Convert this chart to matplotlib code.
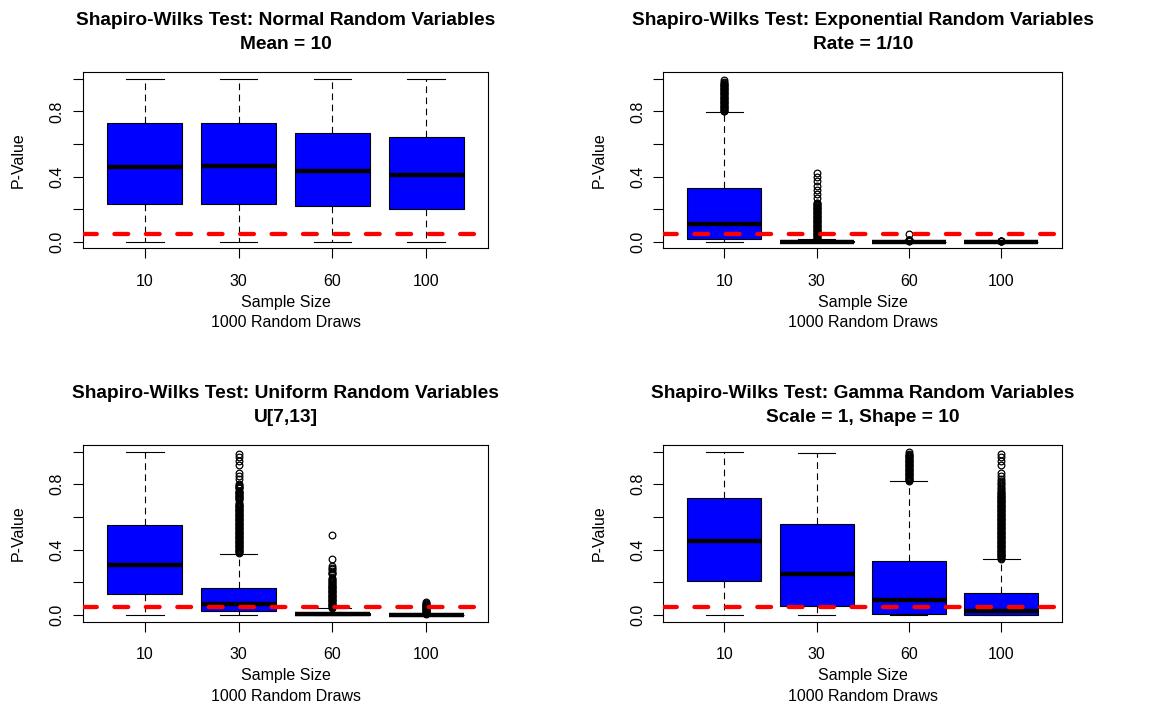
import matplotlib.pyplot as plt

plt.rcParams['font.family'] = 'Liberation Sans'

# Shapiro-Wilk p-values, summarised per sample size:
# each row is [lower whisker, Q1, median, Q3, upper whisker]
sizes = ['10', '30', '60', '100']

normal_box = [
    [0.0, 0.234, 0.459, 0.728, 1.0],
    [0.0, 0.234, 0.468, 0.728, 1.0],
    [0.0, 0.217, 0.435, 0.669, 1.0],
    [0.0, 0.203, 0.408, 0.644, 1.0],
]
normal_out = [[], [], [], []]

expon_box = [
    [0.0, 0.016, 0.110, 0.333, 0.796],
    [0.0, 0.0, 0.001, 0.005, 0.016],
    [0.0, 0.0, 0.0, 0.001, 0.003],
    [0.0, 0.0, 0.0, 0.0, 0.001],
]
expon_out = [
    [0.800, 0.805, 0.810, 0.815, 0.820, 0.825, 0.830, 0.835, 0.840, 0.845,
     0.850, 0.855, 0.860, 0.865, 0.870, 0.875, 0.880, 0.885, 0.890, 0.895,
     0.900, 0.905, 0.910, 0.915, 0.920, 0.925, 0.930, 0.935, 0.940, 0.945,
     0.950, 0.955, 0.960, 0.965, 0.970, 0.975, 0.980, 0.990],
    [0.018, 0.020, 0.025, 0.030, 0.035, 0.040, 0.045, 0.050, 0.055, 0.060,
     0.065, 0.070, 0.075, 0.080, 0.085, 0.090, 0.095, 0.100, 0.105, 0.110,
     0.115, 0.120, 0.125, 0.130, 0.135, 0.140, 0.145, 0.150, 0.155, 0.160,
     0.165, 0.170, 0.175, 0.180, 0.185, 0.190, 0.195, 0.200, 0.205, 0.210,
     0.215, 0.220, 0.225, 0.230, 0.235, 0.240, 0.270, 0.295, 0.320, 0.345,
     0.370, 0.395, 0.420],
    [0.004, 0.006, 0.008, 0.010, 0.012, 0.014, 0.045],
    [0.002, 0.003, 0.004, 0.005, 0.006],
]

unif_box = [
    [0.0, 0.132, 0.309, 0.549, 1.0],
    [0.0, 0.023, 0.070, 0.167, 0.374],
    [0.0, 0.002, 0.006, 0.014, 0.043],
    [0.0, 0.0, 0.001, 0.003, 0.006],
]
unif_out = [
    [],
    [0.380, 0.385, 0.390, 0.395, 0.400, 0.405, 0.410, 0.415, 0.420, 0.425,
     0.430, 0.435, 0.440, 0.445, 0.450, 0.455, 0.460, 0.465, 0.470, 0.475,
     0.480, 0.485, 0.490, 0.495, 0.500, 0.505, 0.510, 0.515, 0.520, 0.525,
     0.530, 0.535, 0.540, 0.545, 0.550, 0.555, 0.560, 0.565, 0.570, 0.575,
     0.580, 0.585, 0.590, 0.595, 0.600, 0.605, 0.610, 0.615, 0.620, 0.625,
     0.630, 0.635, 0.640, 0.645, 0.650, 0.655, 0.660, 0.665, 0.670, 0.675,
     0.680, 0.685, 0.705, 0.710, 0.715, 0.720, 0.725, 0.730, 0.735, 0.740,
     0.745, 0.750, 0.755, 0.760, 0.775, 0.780, 0.785, 0.790, 0.795, 0.800,
     0.830, 0.850, 0.870, 0.920, 0.940, 0.965, 0.985],
    [0.045, 0.050, 0.055, 0.060, 0.065, 0.070, 0.075, 0.080, 0.085, 0.090,
     0.095, 0.100, 0.105, 0.110, 0.115, 0.120, 0.125, 0.130, 0.135, 0.140,
     0.145, 0.150, 0.155, 0.160, 0.165, 0.170, 0.175, 0.180, 0.185, 0.190,
     0.195, 0.200, 0.210, 0.215, 0.220, 0.225, 0.250, 0.255, 0.260, 0.270,
     0.280, 0.290, 0.300, 0.343, 0.490],
    [0.008, 0.012, 0.016, 0.020, 0.024, 0.028, 0.032, 0.036, 0.040, 0.044,
     0.048, 0.052, 0.056, 0.060, 0.064, 0.068, 0.072, 0.080],
]

gamma_box = [
    [0.0, 0.208, 0.451, 0.718, 1.0],
    [0.0, 0.058, 0.251, 0.558, 0.992],
    [0.002, 0.008, 0.090, 0.333, 0.817],
    [0.0, 0.0, 0.027, 0.134, 0.342],
]
gamma_out = [
    [],
    [],
    [0.820, 0.825, 0.830, 0.835, 0.840, 0.845, 0.850, 0.855, 0.860, 0.865,
     0.870, 0.875, 0.880, 0.885, 0.890, 0.895, 0.900, 0.905, 0.910, 0.915,
     0.920, 0.925, 0.930, 0.935, 0.940, 0.945, 0.950, 0.955, 0.960, 0.965,
     0.970, 0.975, 0.980, 0.985, 0.995],
    [0.345, 0.350, 0.355, 0.360, 0.365, 0.370, 0.375, 0.380, 0.385, 0.390,
     0.395, 0.400, 0.405, 0.410, 0.415, 0.420, 0.425, 0.430, 0.435, 0.440,
     0.445, 0.450, 0.455, 0.460, 0.465, 0.470, 0.475, 0.480, 0.485, 0.490,
     0.495, 0.500, 0.505, 0.510, 0.515, 0.520, 0.525, 0.530, 0.535, 0.540,
     0.545, 0.550, 0.555, 0.560, 0.565, 0.570, 0.575, 0.580, 0.585, 0.590,
     0.595, 0.600, 0.605, 0.610, 0.615, 0.620, 0.625, 0.630, 0.635, 0.640,
     0.645, 0.650, 0.655, 0.660, 0.665, 0.670, 0.675, 0.680, 0.685, 0.690,
     0.695, 0.700, 0.705, 0.710, 0.715, 0.720, 0.725, 0.730, 0.735, 0.740,
     0.745, 0.750, 0.760, 0.770, 0.780, 0.790, 0.800, 0.810, 0.820, 0.835,
     0.850, 0.870, 0.920, 0.940, 0.965, 0.985],
]

alpha = 0.05

panels = [
    ('Shapiro-Wilks Test: Normal Random Variables', 'Mean = 10',
     normal_box, normal_out, [0.0710, 0.6527, 0.3465, 0.2462]),
    ('Shapiro-Wilks Test: Exponential Random Variables', 'Rate = 1/10',
     expon_box, expon_out, [0.5674, 0.6527, 0.3413, 0.2462]),
    ('Shapiro-Wilks Test: Uniform Random Variables', 'U[7,13]',
     unif_box, unif_out, [0.0710, 0.1305, 0.3465, 0.2471]),
    ('Shapiro-Wilks Test: Gamma Random Variables', 'Scale = 1, Shape = 10',
     gamma_box, gamma_out, [0.5674, 0.1305, 0.3413, 0.2471]),
]

fig = plt.figure(figsize=(11.69, 7.15), dpi=100)

for title, sub, box, out, rect in panels:
    ax = fig.add_axes(rect)
    stats = []
    for lbl, b, o in zip(sizes, box, out):
        stats.append(dict(label=lbl, whislo=b[0], q1=b[1], med=b[2],
                          q3=b[3], whishi=b[4], fliers=o))
    ax.bxp(stats, positions=[1, 2, 3, 4], widths=0.8, capwidths=0.4,
           patch_artist=True,
           boxprops=dict(facecolor='#0000ff', edgecolor='black', linewidth=0.8),
           medianprops=dict(color='black', linewidth=3.2, solid_capstyle='butt'),
           whiskerprops=dict(color='black', linewidth=0.8, linestyle=(0, (6, 4))),
           capprops=dict(color='black', linewidth=0.8),
           flierprops=dict(marker='o', markerfacecolor='none',
                           markeredgecolor='black', markersize=4.8,
                           markeredgewidth=0.9))
    # significance threshold
    ax.axhline(alpha, color='red', linewidth=3.1, linestyle=(0, (3.2, 4.1)),
               dash_capstyle='round', zorder=5)

    ax.set_xlim(0.34, 4.66)
    ax.set_ylim(-0.04, 1.04)
    ax.set_yticks([0, 0.2, 0.4, 0.6, 0.8, 1.0])
    ax.set_yticklabels(['0.0', '', '0.4', '', '0.8', ''])
    for t in ax.get_yticklabels():
        t.set_rotation(90)
        t.set_va('center')
    ax.tick_params(axis='both', length=7.2, width=0.8, labelsize=11.5)
    ax.tick_params(axis='x', pad=11)
    ax.tick_params(axis='y', pad=6)
    for s in ax.spines.values():
        s.set_linewidth(0.8)

    ax.set_xlabel('Sample Size\n1000 Random Draws', fontsize=11.5,
                  linespacing=1.45)
    ax.xaxis.set_label_coords(0.5, -46.5 / 176)
    ax.set_ylabel('P-Value', fontsize=11.5)
    ax.yaxis.set_label_coords(-57 / 405, 0.5)

    ax.annotate(title, xy=(0.5, 1), xycoords='axes fraction',
                xytext=(0, 33.8), textcoords='offset points', ha='center',
                va='baseline', fontsize=13.8, fontweight='bold')
    ax.annotate(sub, xy=(0.5, 1), xycoords='axes fraction',
                xytext=(0, 16.6), textcoords='offset points', ha='center',
                va='baseline', fontsize=13.8, fontweight='bold')

fig.savefig('out.png', dpi=100)
